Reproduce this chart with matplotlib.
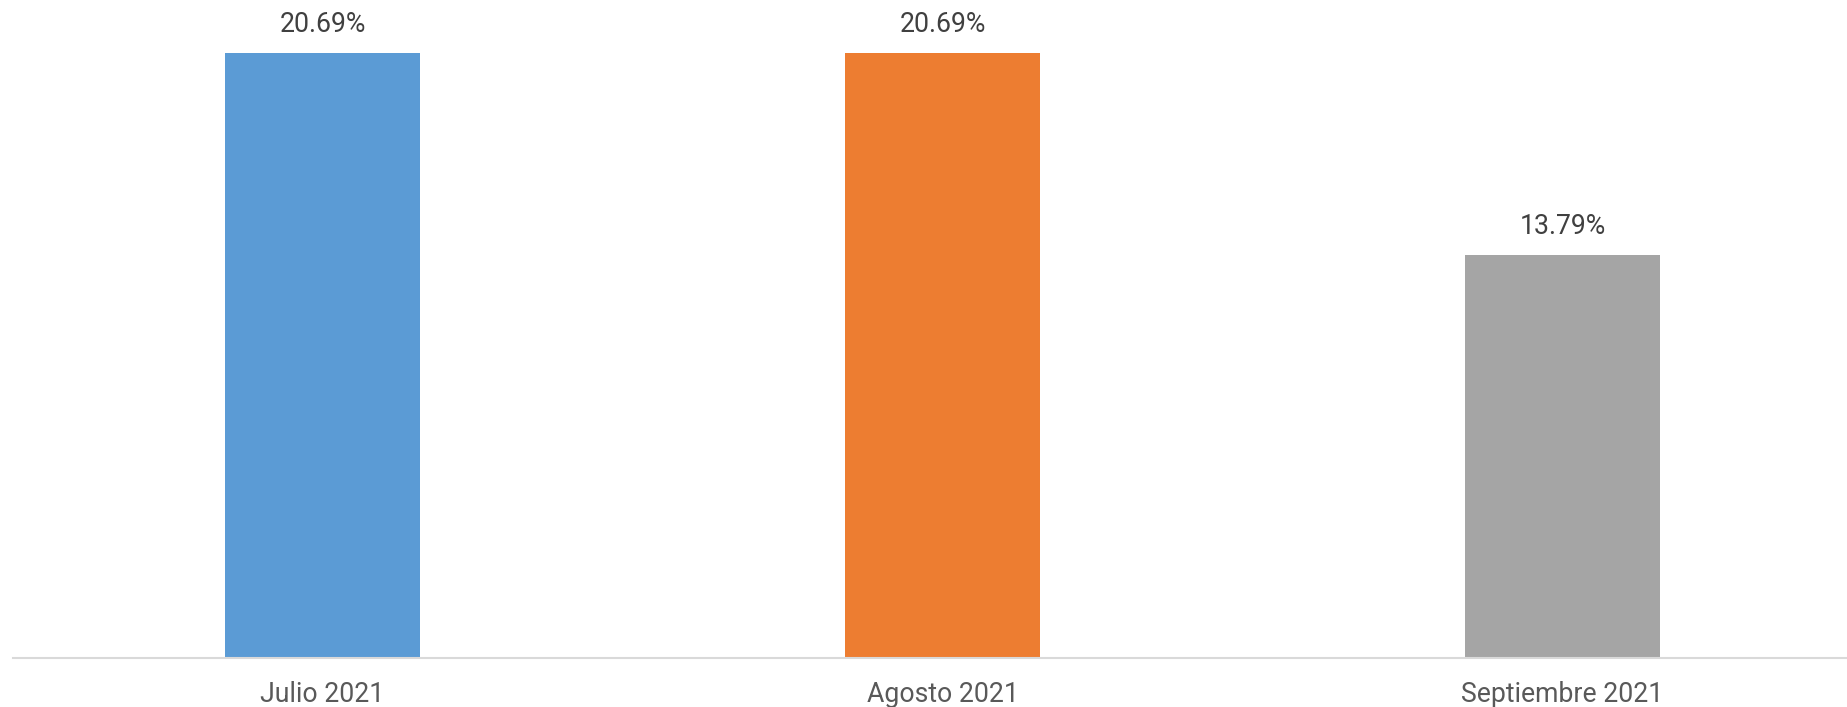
import matplotlib.pyplot as plt
import numpy as np

plt.rcParams['font.family'] = ['Roboto', 'DejaVu Sans']

months = ["Julio 2021", "Agosto 2021", "Septiembre 2021"]
values = [20.69, 20.69, 13.79]
colors = ["#5B9BD5", "#ED7D31", "#A5A5A5"]

W, H = 1847, 707
fig = plt.figure(figsize=(W / 100, H / 100), dpi=100)

# axes placed in pixel units
left, right = 12.5, 1847
base = 657.7
ax = fig.add_axes([left / W, (H - base) / H, (right - left) / W, base / H])

x = np.arange(len(months))
bars = ax.bar(x, values, width=195 / 620, color=colors, zorder=2)

ax.set_xlim(-0.5, -0.5 + (right - left) / 620)
ax.set_ylim(0, base / (604.7 / 20.69))

for b, v in zip(bars, values):
    ax.annotate(f"{v:.2f}%", (b.get_x() + b.get_width() / 2, v),
                xytext=(0, 10.5), textcoords="offset points",
                ha="center", va="bottom", fontsize=19.2, color="#404040")

ax.set_xticks(x)
ax.set_xticklabels(months, fontsize=19.2, color="#595959")
ax.tick_params(axis="x", length=0, pad=16.5)
ax.set_yticks([])

for s in ["top", "right", "left"]:
    ax.spines[s].set_visible(False)
ax.spines["bottom"].set_color("#D9D9D9")
ax.spines["bottom"].set_linewidth(1.5)

fig.savefig("out.png", dpi=100)
